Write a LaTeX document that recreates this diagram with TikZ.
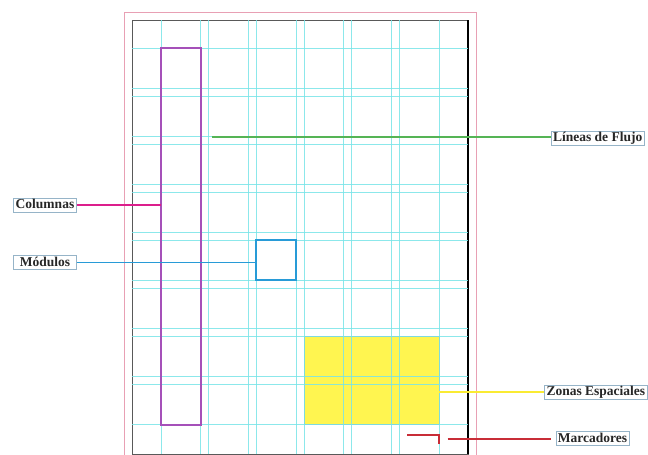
\documentclass[tikz,border=0pt]{standalone}
\usepackage{fontspec}
\setmainfont{Liberation Serif}
\usepackage{tikz}
\usetikzlibrary{positioning}
\definecolor{gridcyan}{RGB}{120,228,232}
\definecolor{pagepink}{RGB}{232,160,180}
\definecolor{colpurple}{RGB}{165,80,185}
\definecolor{colmagenta}{RGB}{220,30,140}
\definecolor{modblue}{RGB}{40,155,215}
\definecolor{flowgreen}{RGB}{85,180,85}
\definecolor{zoneyellow}{RGB}{255,245,80}
\definecolor{zoneline}{RGB}{250,235,50}
\definecolor{markred}{RGB}{200,45,55}
\definecolor{tagframe}{RGB}{150,180,200}

\begin{document}
\begin{tikzpicture}[x=1pt, y=-1pt,
    tag/.style={draw=tagframe, line width=0.7pt, fill=white,
                inner xsep=2pt, inner ysep=1pt, text height=9.5pt, text depth=2.5pt,
                font=\fontsize{13.5}{15}\selectfont\bfseries, text=black!85},
    guide/.style={gridcyan, line width=0.8pt},
    area/.style={inner sep=0pt, outer sep=0pt, anchor=north west},
    frame/.style={line width=2pt},
    lead/.style={line width=1.7pt},
  ]
  \useasboundingbox (0,0) rectangle (648,455);

  % hoja y margen
  \draw[pagepink, line width=0.7pt] (124,455) -- (124,12) -- (476,12) -- (476,455);
  \draw[black!65, line width=0.7pt] (132,20) rectangle (468,454);
  \draw[black, line width=1.8pt] (468,20) -- (468,454);

  % zona espacial (bajo la reticula)
  \node[area, fill=zoneyellow, draw=black!35, line width=0.5pt,
        minimum width=134.9pt, minimum height=88.1pt] (zon) at (304.1,336.6) {};

  % reticula: 6 columnas x 8 filas
  \begin{scope}[opacity=0.85]
  \foreach \i in {0,...,5} {
    \draw[guide] (161+47.7*\i,20) -- (161+47.7*\i,454);
    \draw[guide] (200.5+47.7*\i,20) -- (200.5+47.7*\i,454);
  }
  \foreach \j in {0,...,7} {
    \draw[guide] (132,48+48.1*\j) -- (468,48+48.1*\j);
    \draw[guide] (132,88+48.1*\j) -- (468,88+48.1*\j);
  }
  \end{scope}

  \node[area, minimum width=39.5pt, minimum height=376.7pt] (col) at (161,48) {};
  \node[area, minimum width=39.5pt, minimum height=40pt] (mod) at (256.4,240.4) {};
  \draw[frame, colpurple] (col.north west) rectangle (col.south east);
  \draw[frame, modblue] (mod.north west) rectangle (mod.south east);
  \coordinate (flow) at (211.7,137);
  \coordinate (mk) at (447.7,439);

  % etiquetas
  \node[tag] (lcol) at (45,205)    {Columnas};
  \node[tag, minimum width=62.7pt] (lmod) at (45,262.5) {Módulos};
  \node[tag] (lflu) at (597.7,138) {Líneas de Flujo};
  \node[tag] (lzon) at (595.9,392) {Zonas Espaciales};
  \node[tag] (lmar) at (592.5,438.7) {Marcadores};

  \draw[lead, colmagenta] (lcol.east) -- (lcol.east -| col.west);
  \draw[lead, modblue] (lmod.east) -- (lmod.east -| mod.west);
  \draw[lead, flowgreen] (flow) -- (flow -| lflu.west);
  \draw[lead, zoneline] (lzon.west) -- (lzon.west -| zon.east);

  % marca de corte
  \draw[lead, markred] (407,435) -- (439,435) -- (439,443.5);
  \draw[lead, markred, shorten >=5pt] (mk) -- (mk -| lmar.west);
\end{tikzpicture}
\end{document}
